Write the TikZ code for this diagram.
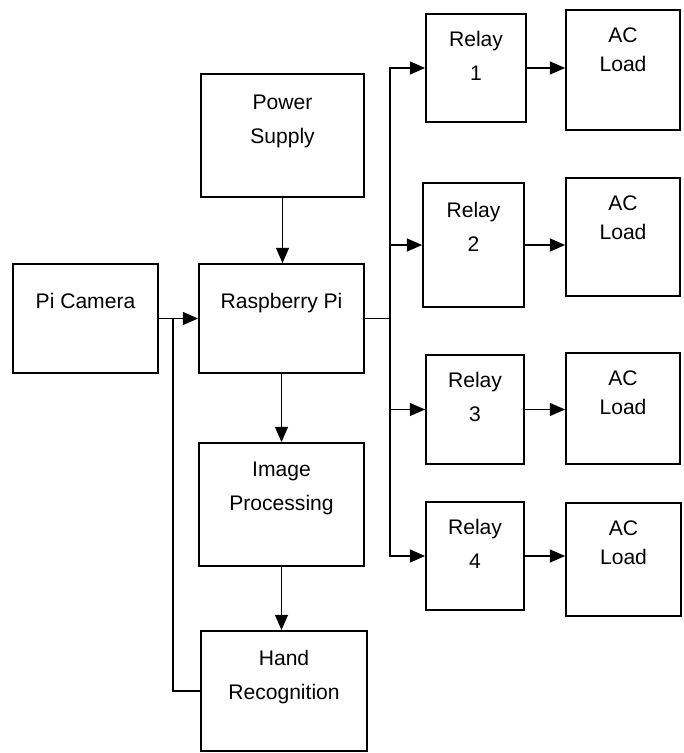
\documentclass[tikz,border=0pt]{standalone}
\usepackage{fontspec}
\setmainfont{Liberation Sans}
\usepackage{xcolor}
\usepackage{tikz}
\usetikzlibrary{arrows.meta}

\begin{document}
\begin{tikzpicture}[
    x=0.025cm, y=-0.025cm,
    font=\fontsize{15}{24}\selectfont,
    box/.style={draw, line width=1.2pt, inner sep=0pt},
    lbl/.style={anchor=north, inner sep=0pt, align=center, yshift=#1},
    lbl/.default=-0.5cm,
    aclbl/.style={lbl=-0.45cm, font=\fontsize{15}{21}\selectfont},
    arr/.style={-{Triangle[length=0.38cm, width=0.32cm]}, line width=1.2pt},
]
\useasboundingbox (0,0) rectangle (683,753);

\node[box, minimum width=3.625cm, minimum height=2.725cm, label={[lbl=-0.75cm]north:Pi Camera}] (cam) at (85.5,318.5) {};
\node[box, minimum width=4.075cm, minimum height=3.075cm, label={[lbl=-0.55cm]north:Power\\Supply}] (psu) at (282.5,135.5) {};
\node[box, minimum width=4.125cm, minimum height=2.725cm, label={[lbl=-0.75cm]north:Raspberry Pi}] (rpi) at (281.5,318.5) {};
\node[box, minimum width=4.125cm, minimum height=3.075cm, label={[lbl]north:Image\\Processing}] (imp) at (281.5,504.5) {};
\node[box, minimum width=4.15cm, minimum height=3.0cm, label={[lbl]north:Hand\\Recognition}] (hand) at (284,691) {};

\node[box, minimum width=2.5cm, minimum height=2.7cm, label={[lbl=-0.45cm]north:Relay\\1}] (relay1) at (476,68) {};
\node[box, minimum width=2.525cm, minimum height=3.1cm, label={[lbl=-0.5cm]north:Relay\\2}] (relay2) at (473.5,245) {};
\node[box, minimum width=2.45cm, minimum height=2.725cm, label={[lbl=-0.45cm]north:Relay\\3}] (relay3) at (475,409.5) {};
\node[box, minimum width=2.45cm, minimum height=2.7cm, label={[lbl=-0.45cm]north:Relay\\4}] (relay4) at (475,556) {};

\node[box, minimum width=2.85cm, minimum height=3.0cm, label={[aclbl]north:AC\\Load}] (load1) at (623,70) {};
\node[box, minimum width=2.85cm, minimum height=2.95cm, label={[aclbl]north:AC\\Load}] (load2) at (623,237) {};
\node[box, minimum width=2.85cm, minimum height=2.775cm, label={[aclbl]north:AC\\Load}] (load3) at (623,408.5) {};
\node[box, minimum width=2.875cm, minimum height=2.825cm, label={[aclbl]north:AC\\Load}] (load4) at (623.5,559.5) {};

\coordinate (join) at (173,318.5);
\coordinate (bus) at (390,318.5);

\draw[arr] (cam) -- (rpi);
\draw[arr] (psu.south) -- (psu.south |- rpi.north);
\draw[arr] (rpi) -- (imp);
\draw[arr] (imp.south) -- (imp.south |- hand.north);
\draw[line width=1.2pt] (hand.west) -| (join);
\draw[line width=1.2pt] (rpi.east) -- (bus);
\draw[arr] (bus) |- (relay1.west);
\draw[arr] (bus) |- (relay2.west);
\draw[arr] (bus) |- (relay3.west);
\draw[arr] (bus) |- (relay4.west);
\draw[arr] (relay1.east) -- (relay1.east -| load1.west);
\draw[arr] (relay2.east) -- (relay2.east -| load2.west);
\draw[arr] (relay3.east) -- (relay3.east -| load3.west);
\draw[arr] (relay4.east) -- (relay4.east -| load4.west);
\end{tikzpicture}
\end{document}
